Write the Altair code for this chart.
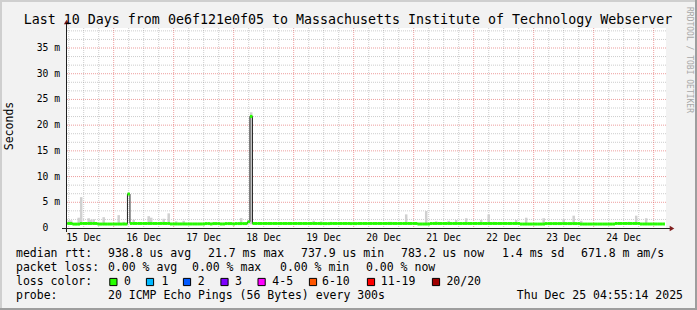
import altair as alt
import pandas as pd

MONO = "DejaVu Sans Mono"

TITLE = "Last 10 Days from 0e6f121e0f05 to Massachusetts Institute of Technology Webserver"

# hours counted from 15 Dec 00:00; hourly values start at 15 Dec 05:00
first_hour = 5
median_ms = [
    0.88, 0.88, 0.88, 0.76, 0.76, 0.76, 0.88, 0.88, 0.88, 0.88, 0.88, 0.88, 0.88, 0.77, 0.77, 0.77, 0.77, 0.77, 0.77, 0.77, 0.77, 0.77, 0.77, 0.77,
    0.77, 6.60, 0.88, 0.88, 0.88, 0.88, 0.88, 0.88, 0.88, 0.88, 0.88, 0.88, 0.88, 0.88, 0.88, 0.88, 0.88, 0.88, 0.79, 0.79, 0.79, 0.79, 0.79, 0.79,
    0.79, 0.79, 0.79, 0.79, 0.79, 0.79, 0.79, 0.79, 0.86, 0.86, 0.79, 0.86, 0.86, 0.86, 0.79, 0.79, 0.86, 0.86, 0.86, 0.79, 0.86, 0.86, 0.86, 0.86,
    0.86, 1.20, 21.70, 0.88, 0.88, 0.88, 0.88, 0.88, 0.88, 0.88, 0.88, 0.88, 0.88, 0.88, 0.88, 0.88, 0.88, 0.88, 0.88, 0.88, 0.88, 0.88, 0.88, 0.88,
    0.88, 0.88, 0.88, 0.88, 0.88, 0.88, 0.86, 0.86, 0.86, 0.86, 0.88, 0.88, 0.88, 0.88, 0.88, 0.88, 0.88, 0.88, 0.86, 0.86, 0.86, 0.88, 0.88, 0.88,
    0.88, 0.88, 0.88, 0.88, 0.88, 0.88, 0.88, 0.88, 0.88, 0.88, 0.88, 0.88, 0.88, 0.88, 0.88, 0.88, 0.88, 0.88, 0.88, 0.88, 0.88, 0.78, 0.78, 0.78,
    0.78, 0.78, 0.88, 0.88, 0.88, 0.88, 0.88, 0.88, 0.88, 0.88, 0.88, 0.88, 0.88, 0.88, 0.88, 0.88, 0.88, 0.88, 0.88, 0.88, 0.88, 0.88, 0.88, 0.88,
    0.88, 0.88, 0.88, 0.88, 0.88, 0.88, 0.88, 0.88, 0.88, 0.88, 0.88, 0.88, 0.88, 0.88, 0.77, 0.77, 0.77, 0.77, 0.77, 0.77, 0.77, 0.77, 0.77, 0.77,
    0.86, 0.86, 0.86, 0.86, 0.86, 0.86, 0.86, 0.86, 0.86, 0.86, 0.86, 0.86, 0.86, 0.86, 0.77, 0.77, 0.77, 0.77, 0.77, 0.77, 0.77, 0.77, 0.77, 0.77,
    0.77, 0.77, 0.77, 0.77, 0.88, 0.88, 0.88, 0.88, 0.88, 0.88, 0.88, 0.88, 0.88, 0.88, 0.78, 0.78, 0.78, 0.78, 0.78, 0.78, 0.78, 0.78, 0.78, 0.78,
]
smoke_hour_index = [1, 2, 5, 6, 9, 10, 11, 15, 21, 23, 27, 33, 34, 38, 39, 41, 44, 47, 70, 74,
                    80, 99, 102, 106, 115, 129, 130, 136, 144, 148, 153, 156, 160, 166, 169, 171, 175, 180, 184, 191,
                    199, 203, 206, 225, 228, 232]
smoke_top_ms = [1.5, 1.5, 2.0, 6.0, 1.9, 1.6, 1.7, 2.1, 2.5, 1.2, 1.6, 2.3, 2.0, 1.2, 1.8, 2.85, 1.3, 1.4, 1.95, 22.5,
                1.1, 1.4, 1.3, 1.2, 1.2, 1.2, 1.2, 2.65, 3.3, 1.3, 1.4, 1.55, 1.9, 1.55, 2.65, 1.2, 1.2, 1.55, 2.0, 1.9,
                1.7, 2.4, 1.4, 1.2, 2.4, 1.9]
smoke_floor_ms = 0.7

day_labels = ["15 Dec", "16 Dec", "17 Dec", "18 Dec", "19 Dec", "20 Dec", "21 Dec", "22 Dec", "23 Dec", "24 Dec"]
day_label_hours = [12, 36, 60, 84, 108, 132, 156, 180, 204, 228]
y_tick_values = [5, 10, 15, 20, 25, 30, 35]
y_tick_labels = ["5 m", "10 m", "15 m", "20 m", "25 m", "30 m", "35 m"]

row1 = ["median rtt:", "938.8 us avg", "21.7 ms max", "737.9 us min", "783.2 us now", "1.4 ms sd", "671.8 m am/s"]
row2 = ["packet loss:", "0.00 % avg", "0.00 % max", "0.00 % min", "0.00 % now"]
loss_labels = ["0", "1", "2", "3", "4-5", "6-10", "11-19", "20/20"]
loss_colors = ["#26ff00", "#00b8ff", "#0059ff", "#7e00ff", "#ff00ff", "#ff5500", "#ff0000", "#a00000"]
probe_text = "20 ICMP Echo Pings (56 Bytes) every 300s"
date_text = "Thu Dec 25 04:55:14 2025"
watermark = "RRDTOOL / TOBI OETIKER"

x_start = 4 + 55 / 60 + 14 / 3600
x_end = x_start + 240
y_max = 38.89
W, H = 600, 200
PAD_L, PAD_T = 66, 28
TOTAL_W, TOTAL_H = 697, 310

xs = alt.Scale(domain=[x_start, x_end], nice=False, zero=False)
ys = alt.Scale(domain=[0, y_max], nice=False, zero=False)

layers = []

# grid
minor_v = [h for h in range(6, 241, 6) if h % 24 != 0]
major_v = list(range(24, 241, 24))
minor_h = [k * 5 / 3 for k in range(1, 24) if k % 3 != 0]
major_h = [5, 10, 15, 20, 25, 30, 35]

layers.append(alt.Chart(pd.DataFrame({"h": minor_v})).mark_rule(
    stroke="#8f8f8f", opacity=0.45, strokeDash=[1, 1], strokeWidth=1).encode(
    x=alt.X("h:Q", scale=xs, axis=None)))
layers.append(alt.Chart(pd.DataFrame({"v": minor_h})).mark_rule(
    stroke="#8f8f8f", opacity=0.45, strokeDash=[1, 1], strokeWidth=1).encode(
    y=alt.Y("v:Q", scale=ys, axis=None)))
layers.append(alt.Chart(pd.DataFrame({"h": major_v})).mark_rule(
    stroke="#de4f4f", opacity=0.55, strokeDash=[1, 1], strokeWidth=1).encode(
    x=alt.X("h:Q", scale=xs, axis=None)))
layers.append(alt.Chart(pd.DataFrame({"v": major_h})).mark_rule(
    stroke="#de4f4f", opacity=0.55, strokeDash=[1, 1], strokeWidth=1).encode(
    y=alt.Y("v:Q", scale=ys, axis=None)))

# smoke
smoke_df = pd.DataFrame({"i": smoke_hour_index, "top": smoke_top_ms})
layers.append(alt.Chart(smoke_df).transform_calculate(
    h0=f"{first_hour} + datum.i - 0.5", h1=f"{first_hour} + datum.i + 0.5", lo=str(smoke_floor_ms)
).mark_rect(color="#d0d0d0", clip=True).encode(
    x=alt.X("h0:Q", scale=xs, axis=None), x2="h1:Q",
    y=alt.Y("lo:Q", scale=ys, axis=None), y2="top:Q"))

# median
med_df = pd.DataFrame({"i": list(range(len(median_ms))), "m": median_ms})
layers.append(alt.Chart(med_df).transform_calculate(
    h=f"{first_hour} + datum.i"
).mark_line(color="#202020", strokeWidth=1, interpolate="step", clip=True).encode(
    x=alt.X("h:Q", scale=xs, axis=None), y=alt.Y("m:Q", scale=ys, axis=None)))
layers.append(alt.Chart(med_df).transform_calculate(
    h0=f"{first_hour} + datum.i - 0.5", h1=f"{first_hour} + datum.i + 0.5",
    lo="datum.m - 0.29", hi="datum.m + 0.29"
).mark_rect(color=loss_colors[0], clip=True).encode(
    x=alt.X("h0:Q", scale=xs, axis=None), x2="h1:Q",
    y=alt.Y("lo:Q", scale=ys, axis=None), y2="hi:Q"))

one = pd.DataFrame({"t": [""]})

# axes lines and arrows
layers.append(alt.Chart(one).mark_rule(color="#1f1f1f", strokeWidth=1).encode(
    x=alt.value(-4), x2=alt.value(W + 4), y=alt.value(H + 0.5)))
layers.append(alt.Chart(one).mark_rule(color="#1f1f1f", strokeWidth=1).encode(
    x=alt.value(0.5), y=alt.value(H + 4), y2=alt.value(-4)))
layers.append(alt.Chart(one).mark_point(shape="triangle-right", filled=True, size=28, color="#801f1f", opacity=1).encode(
    x=alt.value(W + 6), y=alt.value(H + 0.5)))
layers.append(alt.Chart(one).mark_point(shape="triangle-up", filled=True, size=28, color="#801f1f", opacity=1).encode(
    x=alt.value(0.5), y=alt.value(-6)))


def txt(s, x, y, size=11.5, align="left", baseline="middle", angle=0, color="#000000"):
    return alt.Chart(pd.DataFrame({"t": [s]})).mark_text(
        align=align, baseline=baseline, font=MONO, fontSize=size, angle=angle, color=color).encode(
        x=alt.value(x), y=alt.value(y), text="t:N")


# y tick labels
layers.append(alt.Chart(pd.DataFrame({"v": y_tick_values, "lab": y_tick_labels})).mark_text(
    align="right", baseline="middle", font=MONO, fontSize=9.7, color="#000000").encode(
    y=alt.Y("v:Q", scale=ys, axis=None), x=alt.value(-6), text="lab:N"))
layers.append(txt("0", -17.7, H, size=9.7, align="right"))

# x tick labels
layers.append(alt.Chart(pd.DataFrame({"h": day_label_hours, "lab": day_labels})).mark_text(
    align="center", baseline="middle", font=MONO, fontSize=9.7, color="#000000").encode(
    x=alt.X("h:Q", scale=xs, axis=None), y=alt.value(H + 10), text="lab:N"))

# titles
layers.append(txt(TITLE, 282, -4, size=13.3, align="center", baseline="alphabetic"))
layers.append(txt("Seconds", -56, 98, size=11.5, align="center", angle=270))
layers.append(txt(watermark, 623, 32, size=8, align="center", angle=90, color="#a8a8a8"))

# legend
r1x = [-50, 42, 142, 235, 335, 436, 515]
for s, x in zip(row1, r1x):
    layers.append(txt(s, x, 226))
r2x = [-50, 42, 126, 214, 300]
for s, x in zip(row2, r2x):
    layers.append(txt(s, x, 240))
layers.append(txt("loss color:", -50, 254))
box_x = [47.4, 84, 121, 158.5, 195.6, 247, 305, 370]
lab_x = [58.1, 95.6, 131.8, 169, 206.3, 256, 314.8, 380.4]
for lab, col, bx, lx in zip(loss_labels, loss_colors, box_x, lab_x):
    layers.append(alt.Chart(one).mark_square(size=52, fill=col, stroke="#000000", strokeWidth=1, opacity=1).encode(
        x=alt.value(bx), y=alt.value(254)))
    layers.append(txt(lab, lx, 254))
layers.append(txt("probe:", -50, 268))
layers.append(txt(probe_text, 42, 268))
layers.append(txt(date_text, 617, 268, align="right"))

# 3d frame
L, T, R, B = -PAD_L, -PAD_T, TOTAL_W - PAD_L, TOTAL_H - PAD_T
for x1, x2, y1, y2, c in [
    (L, L + 2, T, B, "#cfcfcf"), (L, R, T, T + 2, "#cfcfcf"),
    (R - 2, R, T, B, "#9e9e9e"), (L, R, B - 2, B, "#9e9e9e")]:
    layers.append(alt.Chart(one).mark_rect(color=c).encode(
        x=alt.value(x1), x2=alt.value(x2), y=alt.value(y1), y2=alt.value(y2)))

chart = alt.layer(*layers).properties(
    width=W, height=H,
    padding={"left": PAD_L, "top": PAD_T, "right": TOTAL_W - PAD_L - W, "bottom": TOTAL_H - PAD_T - H},
    autosize=alt.AutoSizeParams(type="none"),
    background="#f2f2f2",
).configure_view(fill="white", stroke=None)

chart.save("out.html", embed_options={"renderer": "svg", "actions": False})
